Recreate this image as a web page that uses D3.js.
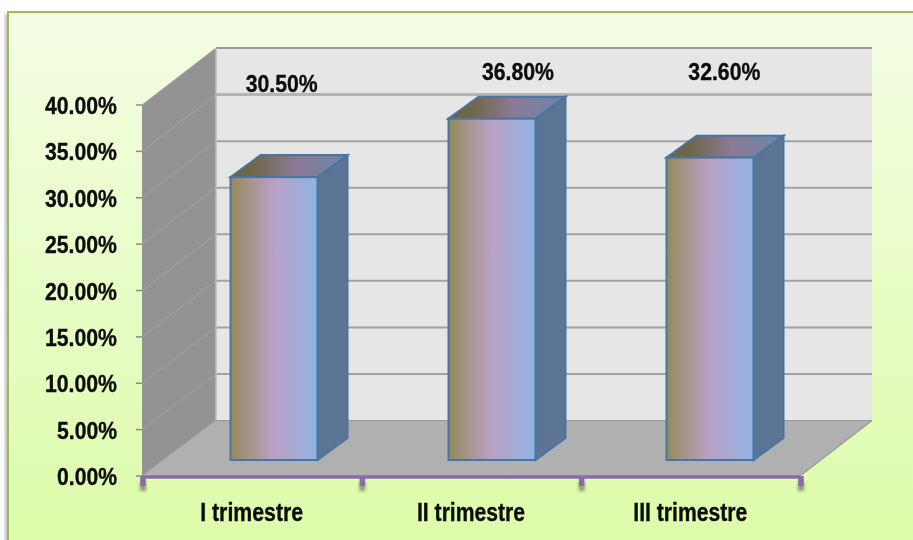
<!DOCTYPE html>
<html>
<head>
<meta charset="utf-8">
<script src="https://cdnjs.cloudflare.com/ajax/libs/d3/7.8.5/d3.min.js"></script>
<style>
  html, body { margin: 0; padding: 0; background: #fff; }
  svg { display: block; }
  text { font-family: "Liberation Sans", Arial, sans-serif; font-weight: bold; fill: #0a0a0a; stroke: #0a0a0a; stroke-width: 0.35; }
</style>
</head>
<body>
<div id="chart"></div>
<script>
var categories = ['I trimestre', 'II trimestre', 'III trimestre']
var values = [30.5, 36.8, 32.6]
var valueLabels = ['30.50%', '36.80%', '32.60%']
var yTicks = [0, 5, 10, 15, 20, 25, 30, 35, 40]
var yTickLabels = ['0.00%', '5.00%', '10.00%', '15.00%', '20.00%', '25.00%', '30.00%', '35.00%', '40.00%']

// where the data labels were dragged to, relative to the band centre
var labelShiftX = [30, 47, 34]
var labelY = [92, 80, 80]
var catLabelWidth = [103, 108, 114]

var width = 913, height = 540

var svg = d3.select('#chart').append('svg')
    .attr('width', width)
    .attr('height', height)

var defs = svg.append('defs')

var bg = defs.append('linearGradient').attr('id', 'bg')
    .attr('x1', 0).attr('y1', 0).attr('x2', 0).attr('y2', 1)
bg.append('stop').attr('offset', '0%').attr('stop-color', '#f3fde4')
bg.append('stop').attr('offset', '100%').attr('stop-color', '#dcfca6')

var barFront = defs.append('linearGradient').attr('id', 'barFront')
barFront.append('stop').attr('offset', '0%').attr('stop-color', '#948a5a')
barFront.append('stop').attr('offset', '50%').attr('stop-color', '#b9a1c7')
barFront.append('stop').attr('offset', '100%').attr('stop-color', '#8fb3e2')

var barTop = defs.append('linearGradient').attr('id', 'barTop')
barTop.append('stop').attr('offset', '0%').attr('stop-color', '#6b6340')
barTop.append('stop').attr('offset', '20%').attr('stop-color', '#6f6748')
barTop.append('stop').attr('offset', '55%').attr('stop-color', '#8b7995')
barTop.append('stop').attr('offset', '100%').attr('stop-color', '#6b86a9')

defs.append('filter').attr('id', 'soft')
    .attr('x', '-5%').attr('y', '-5%').attr('width', '110%').attr('height', '110%')
    .append('feGaussianBlur').attr('stdDeviation', 0.65)

defs.append('filter').attr('id', 'shadow')
    .attr('x', '-300%').attr('y', '-50%').attr('width', '700%').attr('height', '200%')
    .append('feGaussianBlur').attr('stdDeviation', 1.6)

var g = svg.append('g').attr('filter', 'url(#soft)')

// //////////
// panel //
// //////////
g.append('rect')
    .attr('x', 5).attr('y', 14)
    .attr('width', 6).attr('height', height)
    .attr('fill', '#bbb')
    .attr('filter', 'url(#shadow)')

g.append('rect')
    .attr('x', 8).attr('y', 12)
    .attr('width', width + 20).attr('height', height + 20)
    .attr('fill', 'url(#bg)')
    .attr('stroke', '#9bbb59')
    .attr('stroke-width', 2)

// //////////
// scales //
// //////////
var x = d3.scaleBand()
    .domain(categories)
    .range([142, 800])

// bars sit a little tighter than the axis ticks
var xBar = d3.scaleBand()
    .domain(categories)
    .range([142, 796])

var y = d3.scaleLinear().domain([0, 40]).range([476, 105])
var yBack = d3.scaleLinear().domain([0, 40]).range([420.5, 48])

var depthX = 73
var backLeft = x.range()[0] + depthX + 1
var backRight = x.range()[1] + depthX - 1

var line = d3.line()

// back wall, side wall, floor
g.append('rect')
    .attr('x', backLeft).attr('y', yBack(40))
    .attr('width', backRight - backLeft).attr('height', yBack(0) - yBack(40))
    .attr('fill', '#e6e6e6')

g.append('path')
    .attr('d', line([[x.range()[0], y(40)], [backLeft, yBack(40)], [backLeft, yBack(0)], [x.range()[0], y(0)]]) + 'Z')
    .attr('fill', '#939393')

g.append('path')
    .attr('d', line([[x.range()[0], y(0)], [x.range()[1], y(0)], [backRight, yBack(0)], [backLeft, yBack(0)]]) + 'Z')
    .attr('fill', '#b0b0b0')

// gridlines on both walls
var grid = g.append('g')
grid.selectAll('.back')
    .data(yTicks.slice(1))
    .enter()
    .append('line')
    .attr('class', 'back')
    .attr('x1', backLeft).attr('x2', backRight)
    .attr('y1', d => yBack(d)).attr('y2', d => yBack(d))
    .attr('stroke', d => d == 35 ? '#b4b4b4' : d == 40 ? '#999' : '#a2a2a2')
    .attr('stroke-width', d => d == 35 ? 3 : 2)

grid.selectAll('.side')
    .data(yTicks)
    .enter()
    .append('line')
    .attr('class', 'side')
    .attr('x1', x.range()[0]).attr('x2', backLeft)
    .attr('y1', d => y(d)).attr('y2', d => yBack(d))
    .attr('stroke', '#a4a4a4')
    .attr('stroke-width', 1)

g.append('line')
    .attr('x1', backLeft).attr('x2', backLeft)
    .attr('y1', yBack(40)).attr('y2', yBack(0))
    .attr('stroke', '#bdbdbd').attr('stroke-width', 1.5)

g.append('line')
    .attr('x1', backLeft).attr('x2', backRight)
    .attr('y1', yBack(0)).attr('y2', yBack(0))
    .attr('stroke', '#999').attr('stroke-width', 1)

g.append('line')
    .attr('x1', x.range()[1]).attr('x2', backRight)
    .attr('y1', y(0)).attr('y2', yBack(0))
    .attr('stroke', '#999').attr('stroke-width', 1.2)

// //////////
// bars //
// //////////
var barW = 87, barDepthX = 30, barDepthY = 22
var barShiftX = 23, barShiftY = 16

var bars = g.selectAll('.bar')
    .data(values)
    .enter()
    .append('g')
    .attr('class', 'bar')
    .attr('transform', function (d, i) {
        var left = xBar(categories[i]) + xBar.bandwidth() / 2 + barShiftX - barW / 2
        return 'translate(' + left + ',0)'
    })

var barStroke = '#4a74a0'

// side
bars.append('path')
    .attr('d', d => line([[barW, y(d) - barShiftY], [barW + barDepthX, y(d) - barShiftY - barDepthY],
        [barW + barDepthX, y(0) - barShiftY - barDepthY], [barW, y(0) - barShiftY]]) + 'Z')
    .attr('fill', '#5d7595')
    .attr('stroke', barStroke).attr('stroke-width', 2)

// top
bars.append('path')
    .attr('d', d => line([[0, y(d) - barShiftY], [barDepthX, y(d) - barShiftY - barDepthY],
        [barW + barDepthX, y(d) - barShiftY - barDepthY], [barW, y(d) - barShiftY]]) + 'Z')
    .attr('fill', 'url(#barTop)')
    .attr('stroke', barStroke).attr('stroke-width', 2)

// front
bars.append('rect')
    .attr('x', 0).attr('width', barW)
    .attr('y', d => y(d) - barShiftY)
    .attr('height', d => y(0) - y(d))
    .attr('fill', 'url(#barFront)')
    .attr('stroke', barStroke).attr('stroke-width', 2)

// //////////
// axes //
// //////////
var axisY = g.append('g')
axisY.selectAll('line')
    .data(yTicks)
    .enter()
    .append('line')
    .attr('x1', 136).attr('x2', x.range()[0])
    .attr('y1', d => y(d)).attr('y2', d => y(d))
    .attr('stroke', '#8a8a8a').attr('stroke-width', 1.5)

axisY.selectAll('text')
    .data(yTicks)
    .enter()
    .append('text')
    .attr('x', 117)
    .attr('y', d => y(d) + 9)
    .attr('text-anchor', 'end')
    .attr('font-size', 24.5)
    .attr('textLength', (d, i) => yTickLabels[i].length == 5 ? 60 : 72)
    .attr('lengthAdjust', 'spacingAndGlyphs')
    .text((d, i) => yTickLabels[i])

var tickXs = categories.map(d => x(d)).concat([x.range()[1]])

// soft shadow under the category ticks
g.selectAll('.catShadow')
    .data(tickXs)
    .enter()
    .append('rect')
    .attr('class', 'catShadow')
    .attr('x', d => d - 2).attr('width', 6)
    .attr('y', y(0) + 6).attr('height', 9)
    .attr('fill', '#8f9a78')
    .attr('filter', 'url(#shadow)')

g.append('line')
    .attr('x1', x.range()[0]).attr('x2', x.range()[1])
    .attr('y1', y(0) + 1).attr('y2', y(0) + 1)
    .attr('stroke', '#8a6bab').attr('stroke-width', 3.5)

g.selectAll('.catTick')
    .data(tickXs)
    .enter()
    .append('line')
    .attr('class', 'catTick')
    .attr('x1', d => d + 1).attr('x2', d => d + 1)
    .attr('y1', y(0)).attr('y2', y(0) + 10)
    .attr('stroke', '#8a6bab').attr('stroke-width', 5.5)

g.selectAll('.catLabel')
    .data(categories)
    .enter()
    .append('text')
    .attr('class', 'catLabel')
    .attr('x', d => x(d) + x.bandwidth() / 2)
    .attr('y', 520.5)
    .attr('text-anchor', 'middle')
    .attr('font-size', 25)
    .attr('textLength', (d, i) => catLabelWidth[i])
    .attr('lengthAdjust', 'spacingAndGlyphs')
    .text(d => d)

// data labels
g.selectAll('.valueLabel')
    .data(values)
    .enter()
    .append('text')
    .attr('class', 'valueLabel')
    .attr('x', (d, i) => x(categories[i]) + x.bandwidth() / 2 + labelShiftX[i])
    .attr('y', (d, i) => labelY[i])
    .attr('text-anchor', 'middle')
    .attr('font-size', 24.5)
    .attr('textLength', 72)
    .attr('lengthAdjust', 'spacingAndGlyphs')
    .text((d, i) => valueLabels[i])
</script>
</body>
</html>
